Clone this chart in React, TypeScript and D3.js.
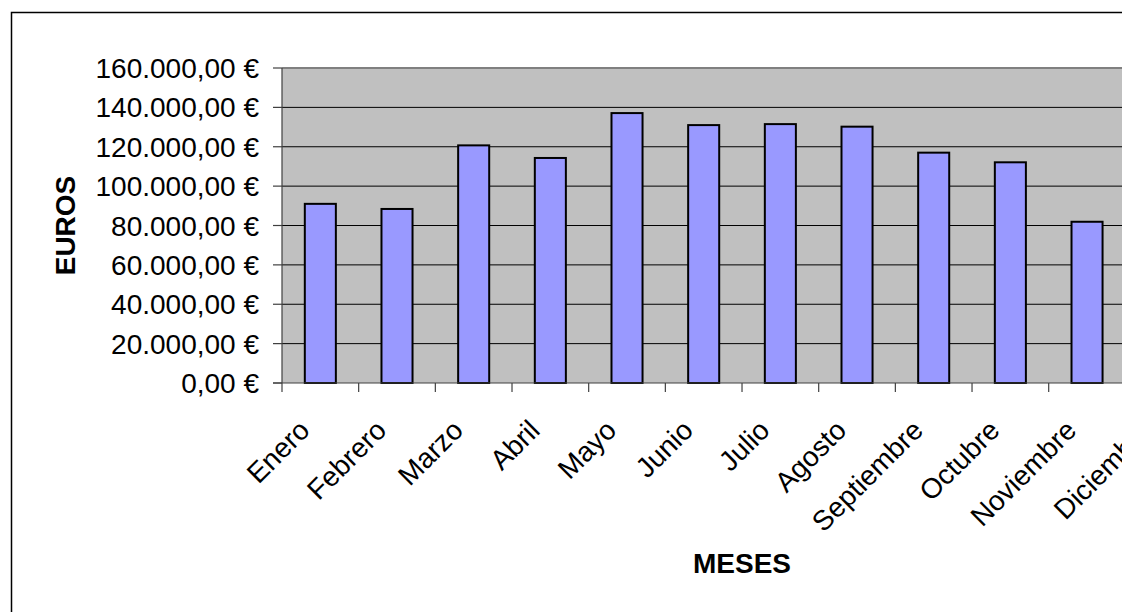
import React from "react";
import * as d3 from "d3";

const months = ["Enero", "Febrero", "Marzo", "Abril", "Mayo", "Junio", "Julio", "Agosto", "Septiembre", "Octubre", "Noviembre", "Diciembre"];
const sales = [91000, 88400, 120700, 114300, 137100, 131000, 131500, 130200, 117000, 112100, 81900, 95000];
const yTicks = [0, 20000, 40000, 60000, 80000, 100000, 120000, 140000, 160000];
const yTitle = "EUROS";
const xTitle = "MESES";

const W = 1127;
const H = 612;
const plotLeft = 282;
const plotTop = 68;
const plotBottom = 383;
const step = 76.67;
const visibleRight = 1122;
const font = "'Liberation Sans', Arial, sans-serif";

const fmt = (v: number) => {
  const s = d3.format(",.2f")(v); // 160,000.00
  return s.replace(/,/g, "#").replace(".", ",").replace(/#/g, ".") + " €";
};

export default function App() {
  const x = d3.scaleBand<string>().domain(months).range([plotLeft, plotLeft + step * months.length]).padding(0);
  const y = d3.scaleLinear().domain([0, 160000]).range([plotBottom, plotTop]);
  const bw = x.bandwidth() * 0.405;
  const plotRight = plotLeft + step * months.length;

  return (
    <svg width={W} height={H} style={{ position: "absolute", left: 0, top: 0, background: "#fff" }} fontFamily={font}>
      <defs>
        <clipPath id="vis">
          <rect x={0} y={0} width={visibleRight} height={H} />
        </clipPath>
      </defs>
      <rect x={0} y={0} width={W} height={H} fill="#fff" />
      <g clipPath="url(#vis)">
        {/* chart frame */}
        <rect x={11.5} y={12.5} width={W + 50} height={H + 50} fill="#fff" stroke="#000" strokeWidth={1.5} />
        {/* plot area */}
        <rect x={plotLeft} y={plotTop} width={plotRight - plotLeft} height={plotBottom - plotTop} fill="#c0c0c0" />
        {yTicks.slice(1, -1).map((t) => (
          <line key={t} x1={plotLeft} x2={plotRight} y1={y(t)} y2={y(t)} stroke="#000" strokeWidth={1} />
        ))}
        <line x1={plotLeft} x2={plotRight} y1={plotTop} y2={plotTop} stroke="#808080" strokeWidth={2} />
        {/* bars */}
        {months.map((m, i) => (
          <rect
            key={m}
            x={(x(m) as number) + (x.bandwidth() - bw) / 2}
            y={y(sales[i])}
            width={bw}
            height={plotBottom - y(sales[i])}
            fill="#9999ff"
            stroke="#000"
            strokeWidth={2}
          />
        ))}
        {/* axes */}
        <line x1={plotLeft} x2={plotLeft} y1={plotTop} y2={plotBottom} stroke="#404040" strokeWidth={1.2} />
        <line x1={plotLeft - 9} x2={plotRight} y1={plotBottom} y2={plotBottom} stroke="#404040" strokeWidth={1.2} />
        {yTicks.map((t) => (
          <g key={t}>
            <line x1={plotLeft - 9} x2={plotLeft} y1={y(t)} y2={y(t)} stroke="#404040" strokeWidth={1.2} />
            <text x={259} y={y(t)} dy="0.36em" textAnchor="end" fontSize={28} fill="#000">
              {fmt(t)}
            </text>
          </g>
        ))}
        {months.map((m, i) => (
          <line key={m} x1={plotLeft + i * step} x2={plotLeft + i * step} y1={plotBottom} y2={plotBottom + 9} stroke="#404040" strokeWidth={1.2} />
        ))}
        {months.map((m) => {
          const cx = (x(m) as number) + x.bandwidth() / 2;
          const ax = cx - 9;
          const ay = 432;
          return (
            <text key={m} x={ax} y={ay} textAnchor="end" fontSize={28} fill="#000" transform={`rotate(-45 ${ax} ${ay})`}>
              {m}
            </text>
          );
        })}
        <text x={(plotLeft + plotRight) / 2} y={573} textAnchor="middle" fontSize={28} fontWeight="bold" fill="#000">
          {xTitle}
        </text>
        <text x={75} y={(plotTop + plotBottom) / 2} textAnchor="middle" fontSize={28} fontWeight="bold" fill="#000" transform={`rotate(-90 75 ${(plotTop + plotBottom) / 2})`}>
          {yTitle}
        </text>
      </g>
    </svg>
  );
}
